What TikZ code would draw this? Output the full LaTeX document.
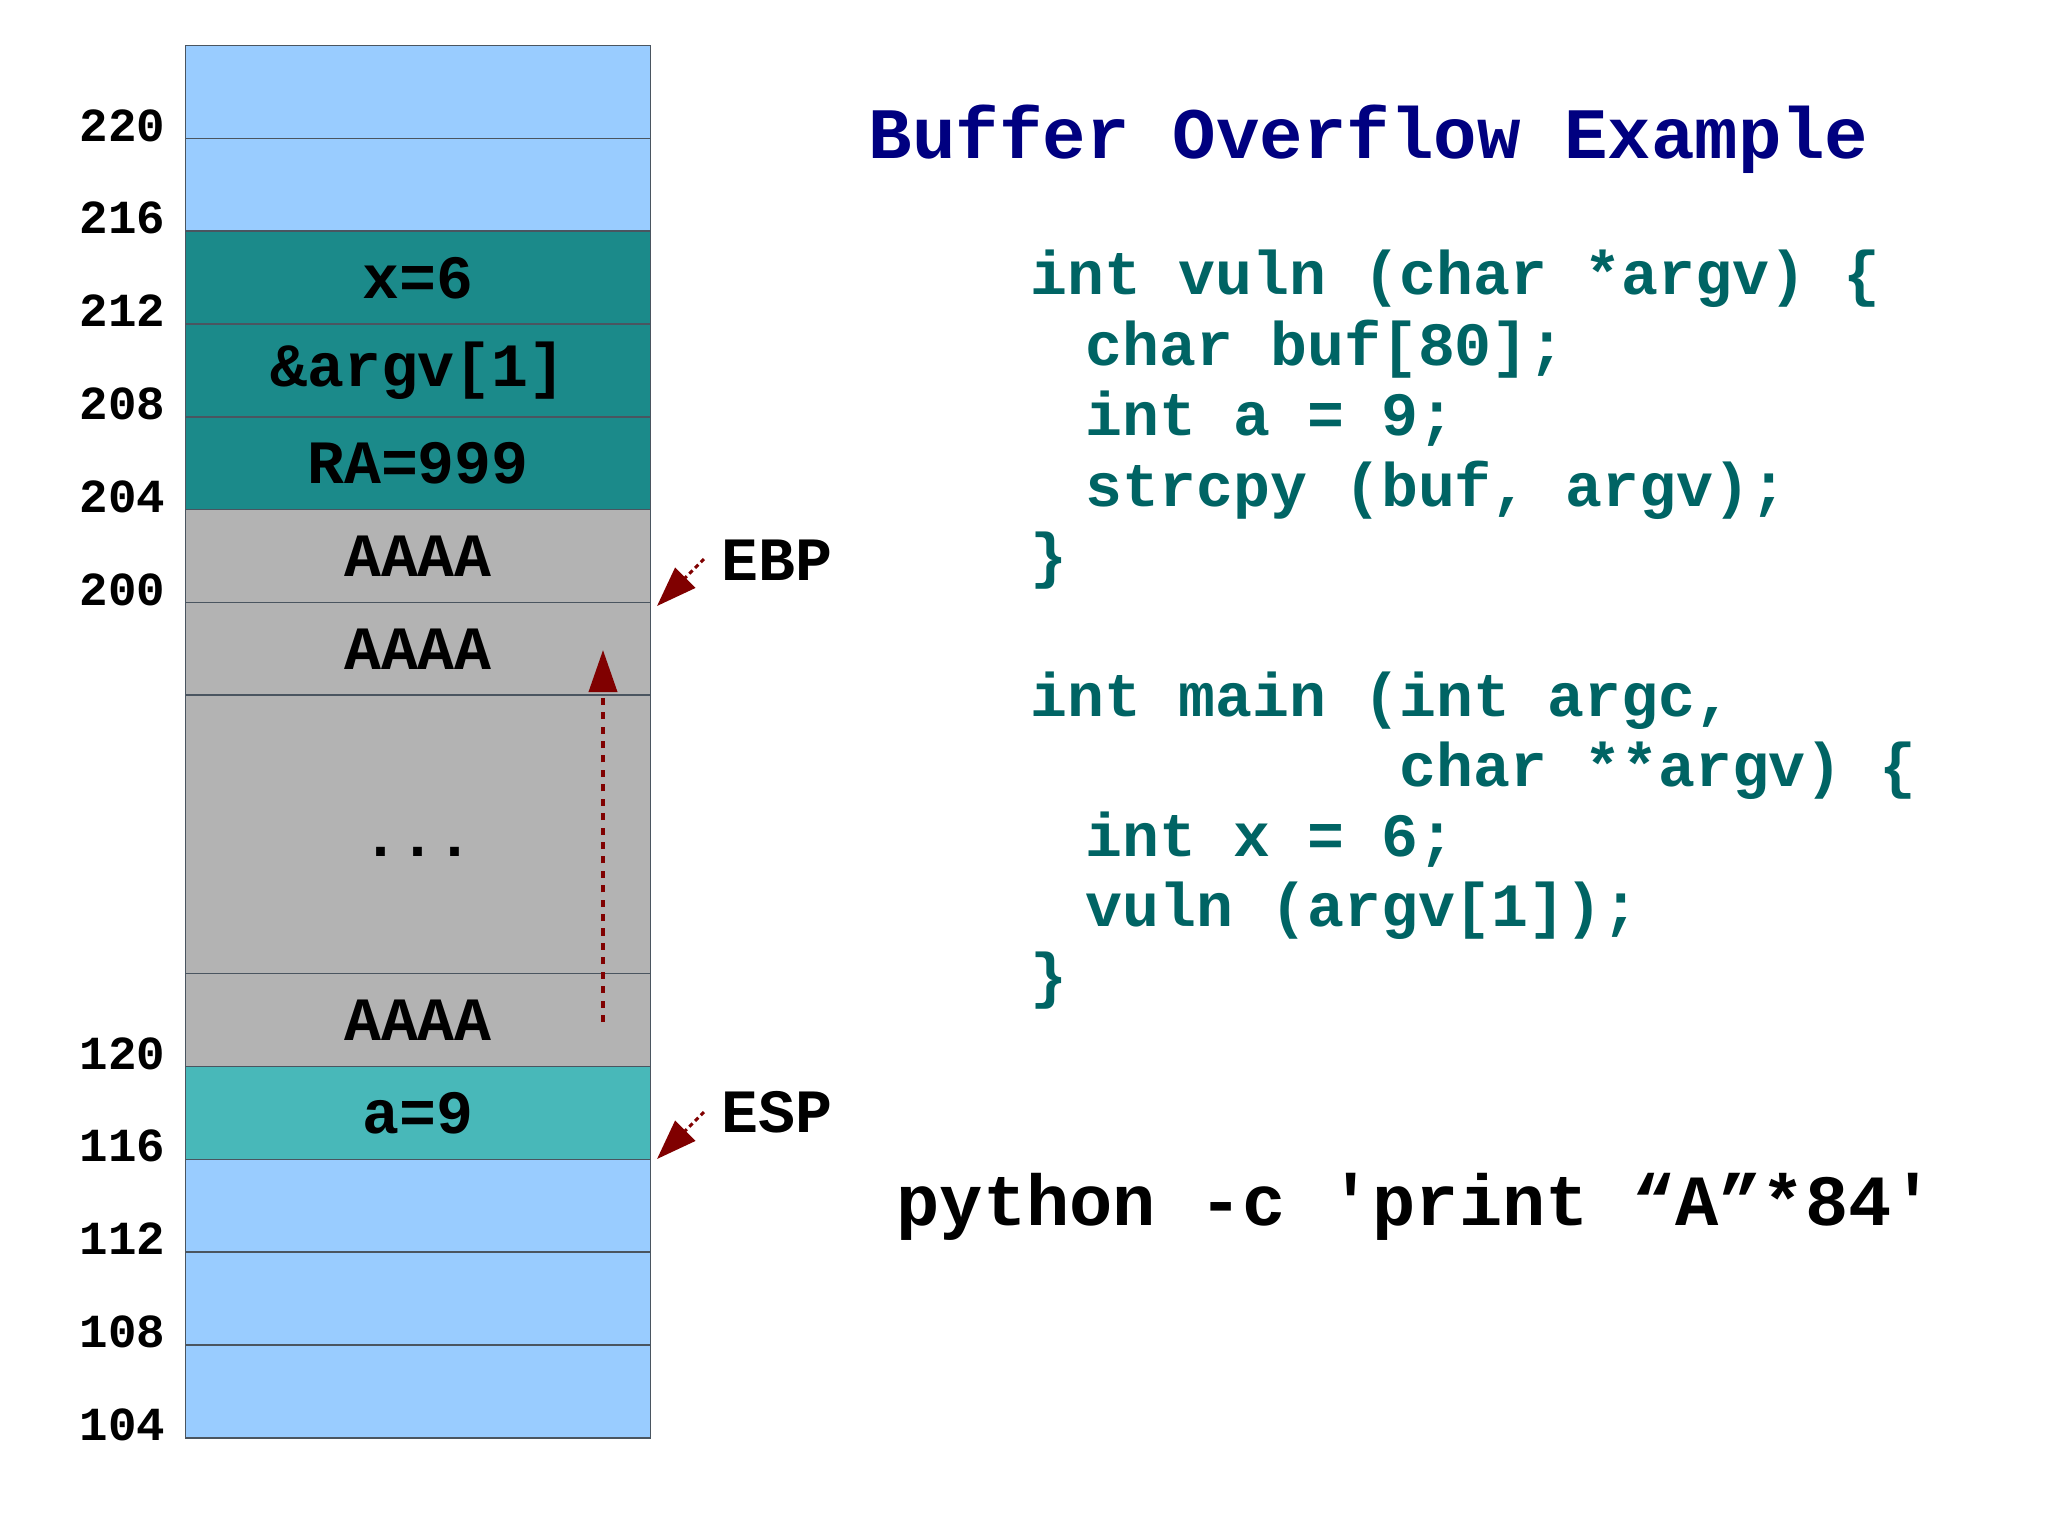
\documentclass[tikz,border=0pt]{standalone}
\usepackage{fontspec}
\setmonofont{Liberation Mono}
\usetikzlibrary{arrows.meta}
\definecolor{lblue}{HTML}{99CCFF}
\definecolor{dteal}{HTML}{1B8A8A}
\definecolor{lteal}{HTML}{48B8B9}
\definecolor{cgray}{HTML}{B3B3B3}
\definecolor{navyblue}{HTML}{000080}
\definecolor{codeteal}{HTML}{006464}
\definecolor{dred}{HTML}{800000}
\definecolor{cellline}{HTML}{4A5560}
\begin{document}
\begin{tikzpicture}[x=0.01cm,y=-0.01cm,
  cell/.style={draw=cellline, line width=0.45pt, minimum width=4.645cm,
    minimum height=0.928cm, inner sep=0pt, outer sep=0pt,
    font=\ttfamily\bfseries\fontsize{17.5}{20}\selectfont},
  bigcell/.style={cell, minimum height=2.784cm},
  addr/.style={anchor=base east, inner sep=0pt,
    font=\ttfamily\bfseries\fontsize{13.5}{16}\selectfont},
  code/.style={anchor=base west, inner sep=0pt, text=codeteal,
    font=\ttfamily\bfseries\fontsize{17.5}{20}\selectfont},
  reglabel/.style={anchor=base west, inner sep=0pt,
    font=\ttfamily\bfseries\fontsize{17.5}{20}\selectfont},
  ptr/.style={draw=dred, line width=0.85pt, dash pattern=on 1.3pt off 1pt,
    -{Triangle[length=11.4pt,width=8pt]}},
  ovarrow/.style={draw=dred, line width=1.1pt, dash pattern=on 2pt off 2.1pt,
    -{Triangle[length=12pt,width=8pt]}}
]
\useasboundingbox (0,0) rectangle (2048,1535);
\fill[white] (0,0) rectangle (2048,1535);

% stack cells
\node[cell, fill=lblue] (r1) at (418,92.1) {};
\node[cell, fill=lblue] (r2) at (418,184.9) {};
\node[cell, fill=dteal] (r3) at (418,277.7) {x=6};
\node[cell, fill=dteal] (r4) at (418,370.5) {\&argv[1]};
\node[cell, fill=dteal] (r5) at (418,463.3) {RA=999};
\node[cell, fill=cgray] (r6) at (418,556.1) {AAAA};
\node[cell, fill=cgray] (r7) at (418,648.9) {AAAA};
\node[bigcell, fill=cgray] (r8) at (418,834.5) {};
\node[inner sep=0pt, font=\ttfamily\bfseries\fontsize{17.5}{20}\selectfont] (dots) at (418,852) {...};
\node[cell, fill=cgray] (r9) at (418,1020.1) {AAAA};
\node[cell, fill=lteal] (r10) at (418,1112.9) {a=9};
\node[cell, fill=lblue] (r11) at (418,1205.7) {};
\node[cell, fill=lblue] (r12) at (418,1298.5) {};
\node[cell, fill=lblue] (r13) at (418,1391.3) {};

% addresses
\node[addr] (a220) at (166,141) {220};
\node[addr] (a216) at (166,233.8) {216};
\node[addr] (a212) at (166,326.6) {212};
\node[addr] (a208) at (166,419.4) {208};
\node[addr] (a204) at (166,512.2) {204};
\node[addr] (a200) at (166,605) {200};
\node[addr] (a120) at (166,1069) {120};
\node[addr] (a116) at (166,1161.8) {116};
\node[addr] (a112) at (166,1254.6) {112};
\node[addr] (a108) at (166,1347.4) {108};
\node[addr] (a104) at (166,1440.2) {104};

% register labels and pointers
\node[reglabel] (ebp) at (721,580) {EBP};
\node[reglabel] (esp) at (721,1132) {ESP};
\coordinate (ebptail) at (704,559);
\coordinate (ebptip) at (657,606);
\coordinate (esptail) at (704,1112);
\coordinate (esptip) at (657,1159);
\draw[ptr] (ebptail) -- (ebptip);
\draw[ptr] (esptail) -- (esptip);

% overflow direction arrow
\coordinate (ovfrom) at (603,1022);
\coordinate (ovto) at (603,650);
\draw[ovarrow] (ovfrom) -- (ovto);

% title
\node[anchor=base west, inner sep=0pt, text=navyblue,
  font=\ttfamily\bfseries\fontsize{20.6}{24}\selectfont] (title) at (868,158) {Buffer Overflow Example};

% code
\node[code] (l1) at (1030,294) {int vuln (char *argv) \{};
\node[code] (l2) at (1085,365) {char buf[80];};
\node[code] (l3) at (1085,435) {int a = 9;};
\node[code] (l4) at (1085,506) {strcpy (buf, argv);};
\node[code] (l5) at (1030,576) {\}};
\node[code] (m1) at (1030,716) {int main (int argc,};
\node[code] (m2) at (1399,786) {char **argv) \{};
\node[code] (m3) at (1085,856) {int x = 6;};
\node[code] (m4) at (1085,926) {vuln (argv[1]);};
\node[code] (m5) at (1030,996) {\}};

% command
\node[anchor=base west, inner sep=0pt,
  font=\ttfamily\bfseries\fontsize{20.5}{24}\selectfont] (cmd) at (896,1225) {python -c 'print “A”*84'};
\end{tikzpicture}
\end{document}
